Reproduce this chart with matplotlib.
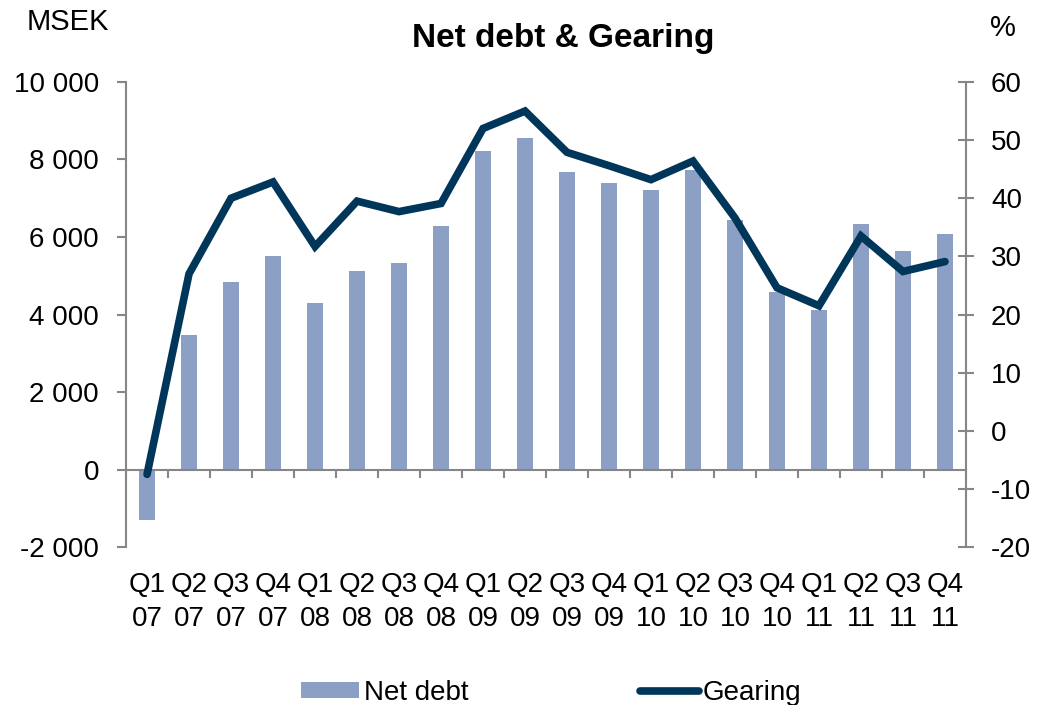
import matplotlib
matplotlib.use('Agg')
import matplotlib.pyplot as plt
from matplotlib.lines import Line2D
from matplotlib.patches import Patch
from matplotlib.ticker import FuncFormatter, FixedLocator
import numpy as np

plt.rcParams['font.family'] = ['Liberation Sans', 'DejaVu Sans']
plt.rcParams['axes.unicode_minus'] = False

QUARTERS = ['Q1', 'Q2', 'Q3', 'Q4'] * 5
YEARS = ['07'] * 4 + ['08'] * 4 + ['09'] * 4 + ['10'] * 4 + ['11'] * 4
CATEGORIES = [f'{q}\n{y}' for q, y in zip(QUARTERS, YEARS)]

# net debt, MSEK
NET_DEBT = [-1300, 3460, 4850, 5510, 4300, 5130, 5340, 6280, 8220, 8560,
            7670, 7400, 7220, 7730, 6450, 4570, 4120, 6340, 5630, 6070]
# gearing, %
GEARING = [-7.5, 27.0, 40.0, 42.8, 31.7, 39.5, 37.7, 39.1, 52.0, 55.0,
           47.9, 45.6, 43.2, 46.4, 36.6, 24.6, 21.5, 33.5, 27.4, 29.1]

BAR_COLOR = '#8c9fc4'
LINE_COLOR = '#003659'
AXIS_COLOR = '#868686'
FS = 20


def space_thousands(v, _pos):
    return f'{int(round(v)):,}'.replace(',', ' ')


fig = plt.figure(figsize=(10.46, 7.05), dpi=100)
ax = fig.add_axes([0.1205, 0.2241, 0.803, 0.6596])
ax2 = ax.twinx()

x = np.arange(len(CATEGORIES))
ax.bar(x, NET_DEBT, width=0.40, color=BAR_COLOR, zorder=2)
ax2.plot(x, GEARING, color=LINE_COLOR, lw=5.5, solid_joinstyle='miter',
         solid_capstyle='round', zorder=3)

ax.set_xlim(-0.5, len(CATEGORIES) - 0.5)
ax.set_ylim(-2000, 10000)
ax.set_yticks(np.arange(-2000, 10001, 2000))
ax.yaxis.set_major_formatter(FuncFormatter(space_thousands))
ax2.set_ylim(-20, 60)
ax2.set_yticks(np.arange(-20, 61, 10))

# category axis sits on the zero line; labels hang below the plot
ax.spines['bottom'].set_position(('data', 0))
ax.xaxis.set_major_locator(FixedLocator(np.arange(-0.5, len(CATEGORIES), 1.0)))
ax.xaxis.set_minor_locator(FixedLocator(x))
ax.set_xticklabels([], minor=False)
ax.set_xticklabels(CATEGORIES, minor=True, fontsize=FS, linespacing=1.4)
ax.tick_params(axis='x', which='major', direction='out', length=6,
               width=1.5, color=AXIS_COLOR)
ax.tick_params(axis='x', which='minor', length=0, pad=74)

ax.tick_params(axis='y', direction='out', length=6.5, width=1.5,
               color=AXIS_COLOR, labelsize=FS, pad=13)
ax2.tick_params(axis='y', direction='inout', length=12, width=1.5,
                color=AXIS_COLOR, labelsize=FS, pad=12)

for a in (ax, ax2):
    a.spines['top'].set_visible(False)
    for sp in a.spines.values():
        sp.set_color(AXIS_COLOR)
        sp.set_linewidth(1.5)
ax.spines['right'].set_visible(False)
ax2.spines['left'].set_visible(False)
ax2.spines['bottom'].set_visible(False)

fig.text(563 / 1046, 1 - 38 / 705, 'Net debt & Gearing', fontsize=24,
         fontweight='bold', ha='center', va='center')
fig.text(27 / 1046, 1 - 22 / 705, 'MSEK', fontsize=21, ha='left', va='center')
fig.text(1003 / 1046, 1 - 28 / 705, '%', fontsize=21, ha='center', va='center')

handles = [Patch(facecolor=BAR_COLOR, edgecolor='none', label='Net debt'),
           Line2D([0], [0], color=LINE_COLOR, lw=5.5, solid_capstyle='round',
                  label='Gearing')]
fig.legend(handles=handles, loc='center', bbox_to_anchor=(0.527, 0.017),
           ncol=2, frameon=False, fontsize=FS, handlelength=2.1,
           handleheight=0.5, handletextpad=0.15, columnspacing=6.2)

fig.savefig('out.png', dpi=100)
